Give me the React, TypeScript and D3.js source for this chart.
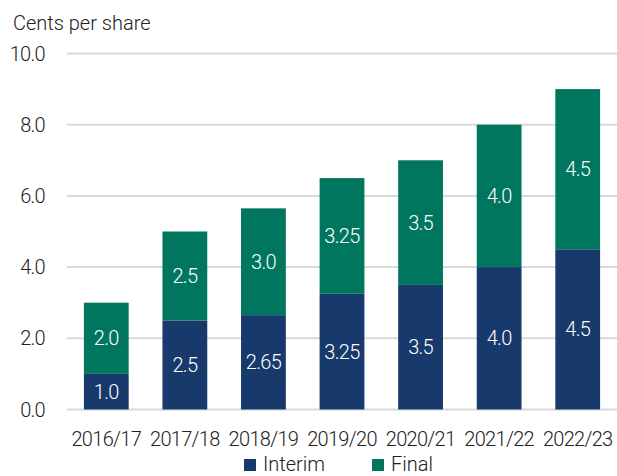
import React from "react";
import * as d3 from "d3";

const categories = ["2016/17", "2017/18", "2018/19", "2019/20", "2020/21", "2021/22", "2022/23"];
const interim = [1.0, 2.5, 2.65, 3.25, 3.5, 4.0, 4.5];
const finalDiv = [2.0, 2.5, 3.0, 3.25, 3.5, 4.0, 4.5];
const interimLabels = ["1.0", "2.5", "2.65", "3.25", "3.5", "4.0", "4.5"];
const finalLabels = ["2.0", "2.5", "3.0", "3.25", "3.5", "4.0", "4.5"];
const yTicks = [0, 2, 4, 6, 8, 10];

const W = 617;
const H = 476;
const NAVY = "#17396b";
const TEAL = "#00765f";
const FONT = "Roboto, 'Noto Sans', sans-serif";
const FS = 20;
const LS = -0.7;

export default function App() {
  const x = d3.scaleBand<string>().domain(categories).range([67, 617]).paddingInner(0.43).paddingOuter(0.215);
  const y = d3.scaleLinear().domain([0, 10]).range([409.5, 53.5]);
  const bw = x.bandwidth();

  return (
    <svg width={W} height={H} style={{ position: "absolute", left: 0, top: 0, background: "#fff" }} fontFamily={FONT} fontWeight={300} letterSpacing={LS}>
      <text x={13} y={30} fontSize={FS} fill="#222" letterSpacing={0}>Cents per share</text>
      {yTicks.map((t) => (
        <g key={t}>
          <line x1={67} x2={617} y1={y(t)} y2={y(t)} stroke="#d9d9d9" strokeWidth={2} />
          <text x={45} y={y(t)} dy="0.35em" textAnchor="end" fontSize={FS} fill="#222">
            {t.toFixed(1)}
          </text>
        </g>
      ))}
      {categories.map((c, i) => {
        const x0 = x(c)!;
        const yi = y(interim[i]);
        const yf = y(interim[i] + finalDiv[i]);
        return (
          <g key={c}>
            <rect x={x0} y={yi} width={bw} height={y(0) - yi} fill={NAVY} />
            <rect x={x0} y={yf} width={bw} height={yi - yf} fill={TEAL} />
            <text x={x0 + bw / 2} y={(yi + y(0)) / 2} dy="0.35em" textAnchor="middle" fontSize={FS} fill="#fff">
              {interimLabels[i]}
            </text>
            <text x={x0 + bw / 2} y={(yf + yi) / 2} dy="0.35em" textAnchor="middle" fontSize={FS} fill="#fff">
              {finalLabels[i]}
            </text>
            <text x={x0 + bw / 2} y={446} textAnchor="middle" fontSize={FS} fill="#222">
              {c}
            </text>
          </g>
        );
      })}
      <g>
        <rect x={244} y={459} width={12} height={12} fill={NAVY} />
        <text x={263} y={471} fontSize={FS} fill="#222" letterSpacing={0}>Interim</text>
        <rect x={372} y={459} width={12} height={12} fill={TEAL} />
        <text x={391} y={471} fontSize={FS} fill="#222" letterSpacing={0}>Final</text>
      </g>
    </svg>
  );
}
